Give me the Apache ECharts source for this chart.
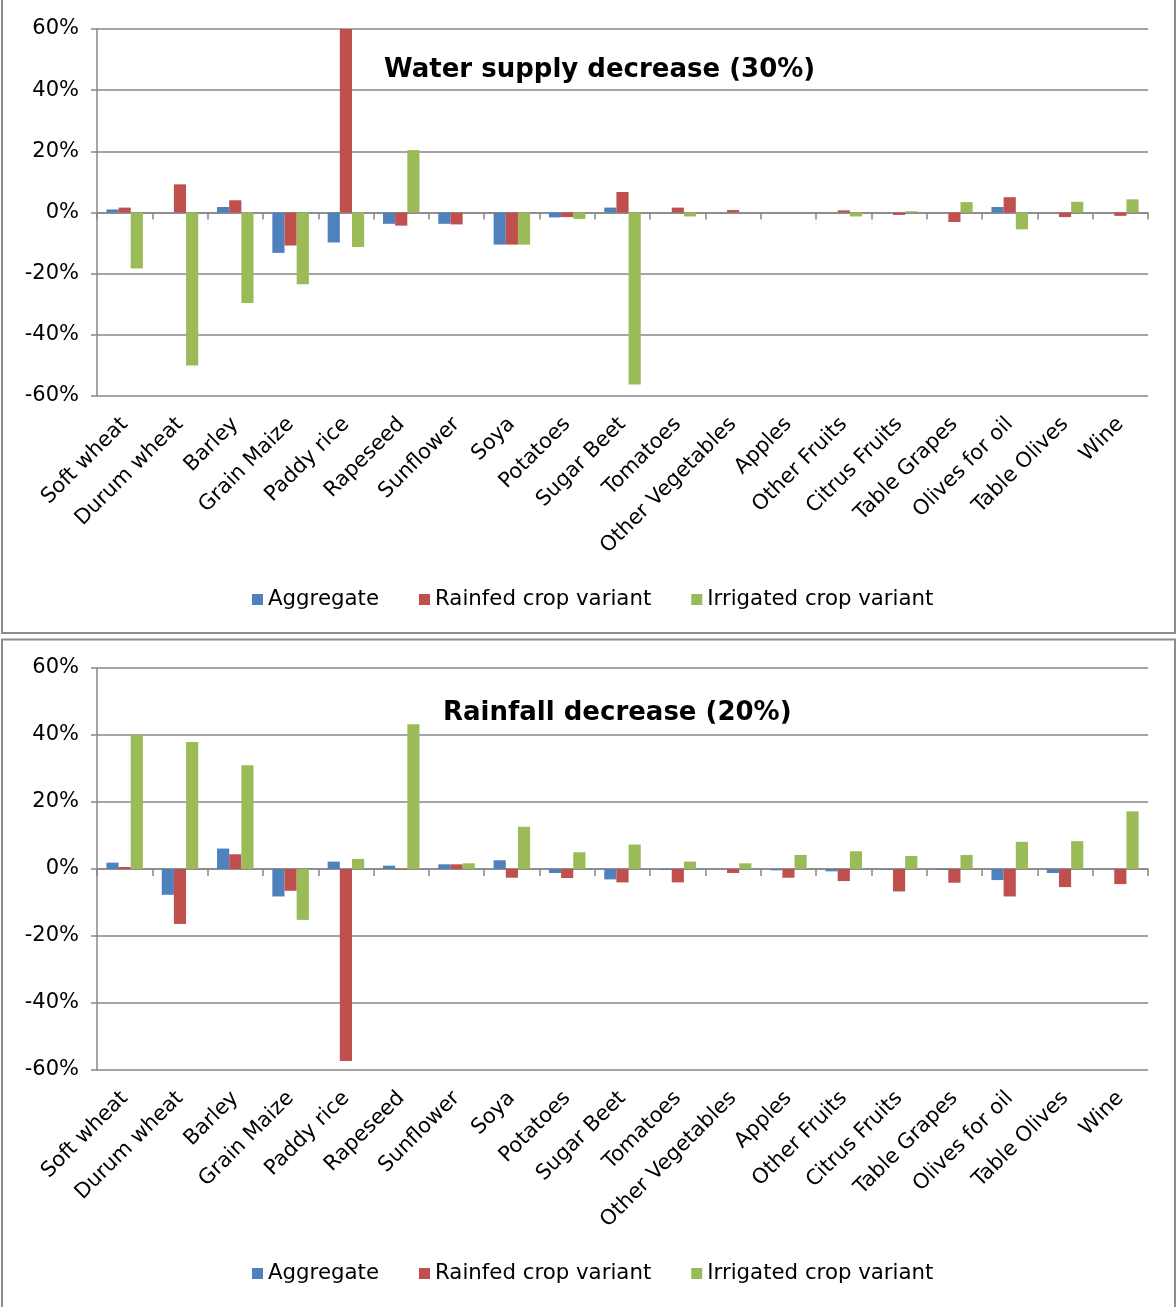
<!DOCTYPE html>
<html>
<head>
<meta charset="utf-8">
<title>Crop response to water supply and rainfall decrease</title>
<script src="https://cdn.jsdelivr.net/npm/echarts@6/dist/echarts.min.js"></script>
<style>
  html, body { margin: 0; padding: 0; background: #ffffff; }
  #chart { width: 1176px; height: 1307px; }
</style>
</head>
<body>
<div id="chart"></div>
<script>
// Crop categories shared by both panels
const categories = ['Soft wheat', 'Durum wheat', 'Barley', 'Grain Maize', 'Paddy rice', 'Rapeseed',
  'Sunflower', 'Soya', 'Potatoes', 'Sugar Beet', 'Tomatoes', 'Other Vegetables', 'Apples',
  'Other Fruits', 'Citrus Fruits', 'Table Grapes', 'Olives for oil', 'Table Olives', 'Wine'];

const seriesNames = ['Aggregate', 'Rainfed crop variant', 'Irrigated crop variant'];

// Panel 1: water supply decrease (30%), change in %
const waterAggregate = [1.0, 0, 1.8, -13.2, -9.8, -3.7, -3.7, -10.5, -1.6, 1.6, 0, 0, 0, 0, 0, 0, 1.8, 0, 0];
const waterRainfed   = [1.6, 9.2, 4.0, -10.8, 60, -4.3, -3.9, -10.5, -1.5, 6.7, 1.6, 0.8, 0, 0.7, -0.8, -3.1, 5.0, -1.5, -1.1];
const waterIrrigated = [-18.3, -50.0, -29.6, -23.5, -11.3, 20.4, 0, -10.5, -2.1, -56.2, -1.3, 0, 0, -1.3, 0.4, 3.4, -5.5, 3.5, 4.3];

// Panel 2: rainfall decrease (20%), change in %
const rainAggregate = [1.9, -7.7, 6.1, -8.2, 2.2, 1.0, 1.4, 2.6, -1.2, -3.1, -0.3, 0, -0.4, -0.7, -0.2, -0.3, -3.3, -1.2, 0];
const rainRainfed   = [0.6, -16.4, 4.4, -6.5, -57.3, -0.2, 1.4, -2.6, -2.7, -4.0, -4.0, -1.2, -2.6, -3.6, -6.7, -4.1, -8.2, -5.4, -4.5];
const rainIrrigated = [40.0, 37.9, 31.0, -15.2, 3.0, 43.2, 1.7, 12.6, 5.0, 7.3, 2.2, 1.7, 4.2, 5.3, 3.9, 4.2, 8.1, 8.3, 17.2];

// Value axis ticks
const yMin = -60, yMax = 60, yStep = 20;

const colors = ['#4F81BD', '#C0504D', '#9BBB59'];
const FONT = '"DejaVu Sans", Verdana, sans-serif';
const AXIS_GREY = '#878787';

const panels = [
  { title: 'Water supply decrease (30%)', data: [waterAggregate, waterRainfed, waterIrrigated],
    grid: { top: 29, height: 367 }, titlePos: { left: 384, top: 57 }, legendTop: 589 },
  { title: 'Rainfall decrease (20%)', data: [rainAggregate, rainRainfed, rainIrrigated],
    grid: { top: 668, height: 402 }, titlePos: { left: 443, top: 700 }, legendTop: 1263 }
];

const grids = [], xAxes = [], yAxes = [], series = [], titles = [], legends = [];

panels.forEach((p, i) => {
  const gMain = grids.length;
  // main plotting grid
  grids.push({ left: 97, width: 1051, top: p.grid.top, height: p.grid.height, containLabel: false });
  // upper half grid whose bottom edge is the zero baseline (category axis with ticks)
  grids.push({ left: 97, width: 1051, top: p.grid.top, height: p.grid.height / 2, containLabel: false });

  xAxes.push({
    type: 'category', gridIndex: gMain, data: categories, position: 'bottom',
    axisLine: { show: false, onZero: false }, axisTick: { show: false },
    axisLabel: { rotate: 45, margin: 25, fontFamily: FONT, fontSize: 21, color: '#000', interval: 0 }
  });
  xAxes.push({
    type: 'category', gridIndex: gMain + 1, data: categories, position: 'bottom',
    axisLine: { show: true, onZero: false, lineStyle: { color: AXIS_GREY, width: 1.5 } },
    axisTick: { show: true, length: 7, alignWithLabel: false, interval: 0, lineStyle: { color: AXIS_GREY, width: 1.5 } },
    axisLabel: { show: false }
  });

  yAxes.push({
    type: 'value', gridIndex: gMain, min: yMin, max: yMax, interval: yStep,
    axisLine: { show: true, lineStyle: { color: AXIS_GREY, width: 1.5 } },
    axisTick: { show: true, length: 6, lineStyle: { color: AXIS_GREY, width: 1.5 } },
    splitLine: { show: true, lineStyle: { color: AXIS_GREY, width: 1.5 } },
    axisLabel: { formatter: v => v + '%', fontFamily: FONT, fontSize: 21, color: '#000', margin: 18 }
  });
  yAxes.push({
    type: 'value', gridIndex: gMain + 1, min: 0, max: yMax, show: false
  });

  p.data.forEach((vals, k) => {
    series.push({
      name: seriesNames[k], type: 'bar', xAxisIndex: gMain, yAxisIndex: gMain,
      data: vals, barGap: '0%', barCategoryGap: '34%',
      itemStyle: { color: colors[k] }, clip: true, animation: false
    });
  });

  titles.push({
    text: p.title, left: p.titlePos.left, top: p.titlePos.top, padding: 0,
    textStyle: { fontFamily: FONT, fontSize: 26, fontWeight: 'bold', color: '#000' }
  });

  legends.push({
    data: seriesNames, left: 252, top: p.legendTop, padding: 0, itemGap: 40,
    itemWidth: 11, itemHeight: 11, icon: 'rect', selectedMode: false,
    textStyle: { fontFamily: FONT, fontSize: 21.3, color: '#000', padding: [0, 0, 0, 0] }
  });
});

const chart = echarts.init(document.getElementById('chart'), null, { renderer: 'canvas' });
chart.setOption({
  backgroundColor: '#ffffff',
  animation: false,
  color: colors,
  title: titles,
  legend: legends,
  grid: grids,
  xAxis: xAxes,
  yAxis: yAxes,
  series: series,
  graphic: [
    { type: 'rect', shape: { x: 2, y: -5, width: 1173, height: 638 }, silent: true,
      style: { fill: null, stroke: '#8c8c8c', lineWidth: 2 } },
    { type: 'rect', shape: { x: 2, y: 639.5, width: 1173, height: 700 }, silent: true,
      style: { fill: null, stroke: '#8c8c8c', lineWidth: 2 } }
  ]
});
</script>
</body>
</html>
